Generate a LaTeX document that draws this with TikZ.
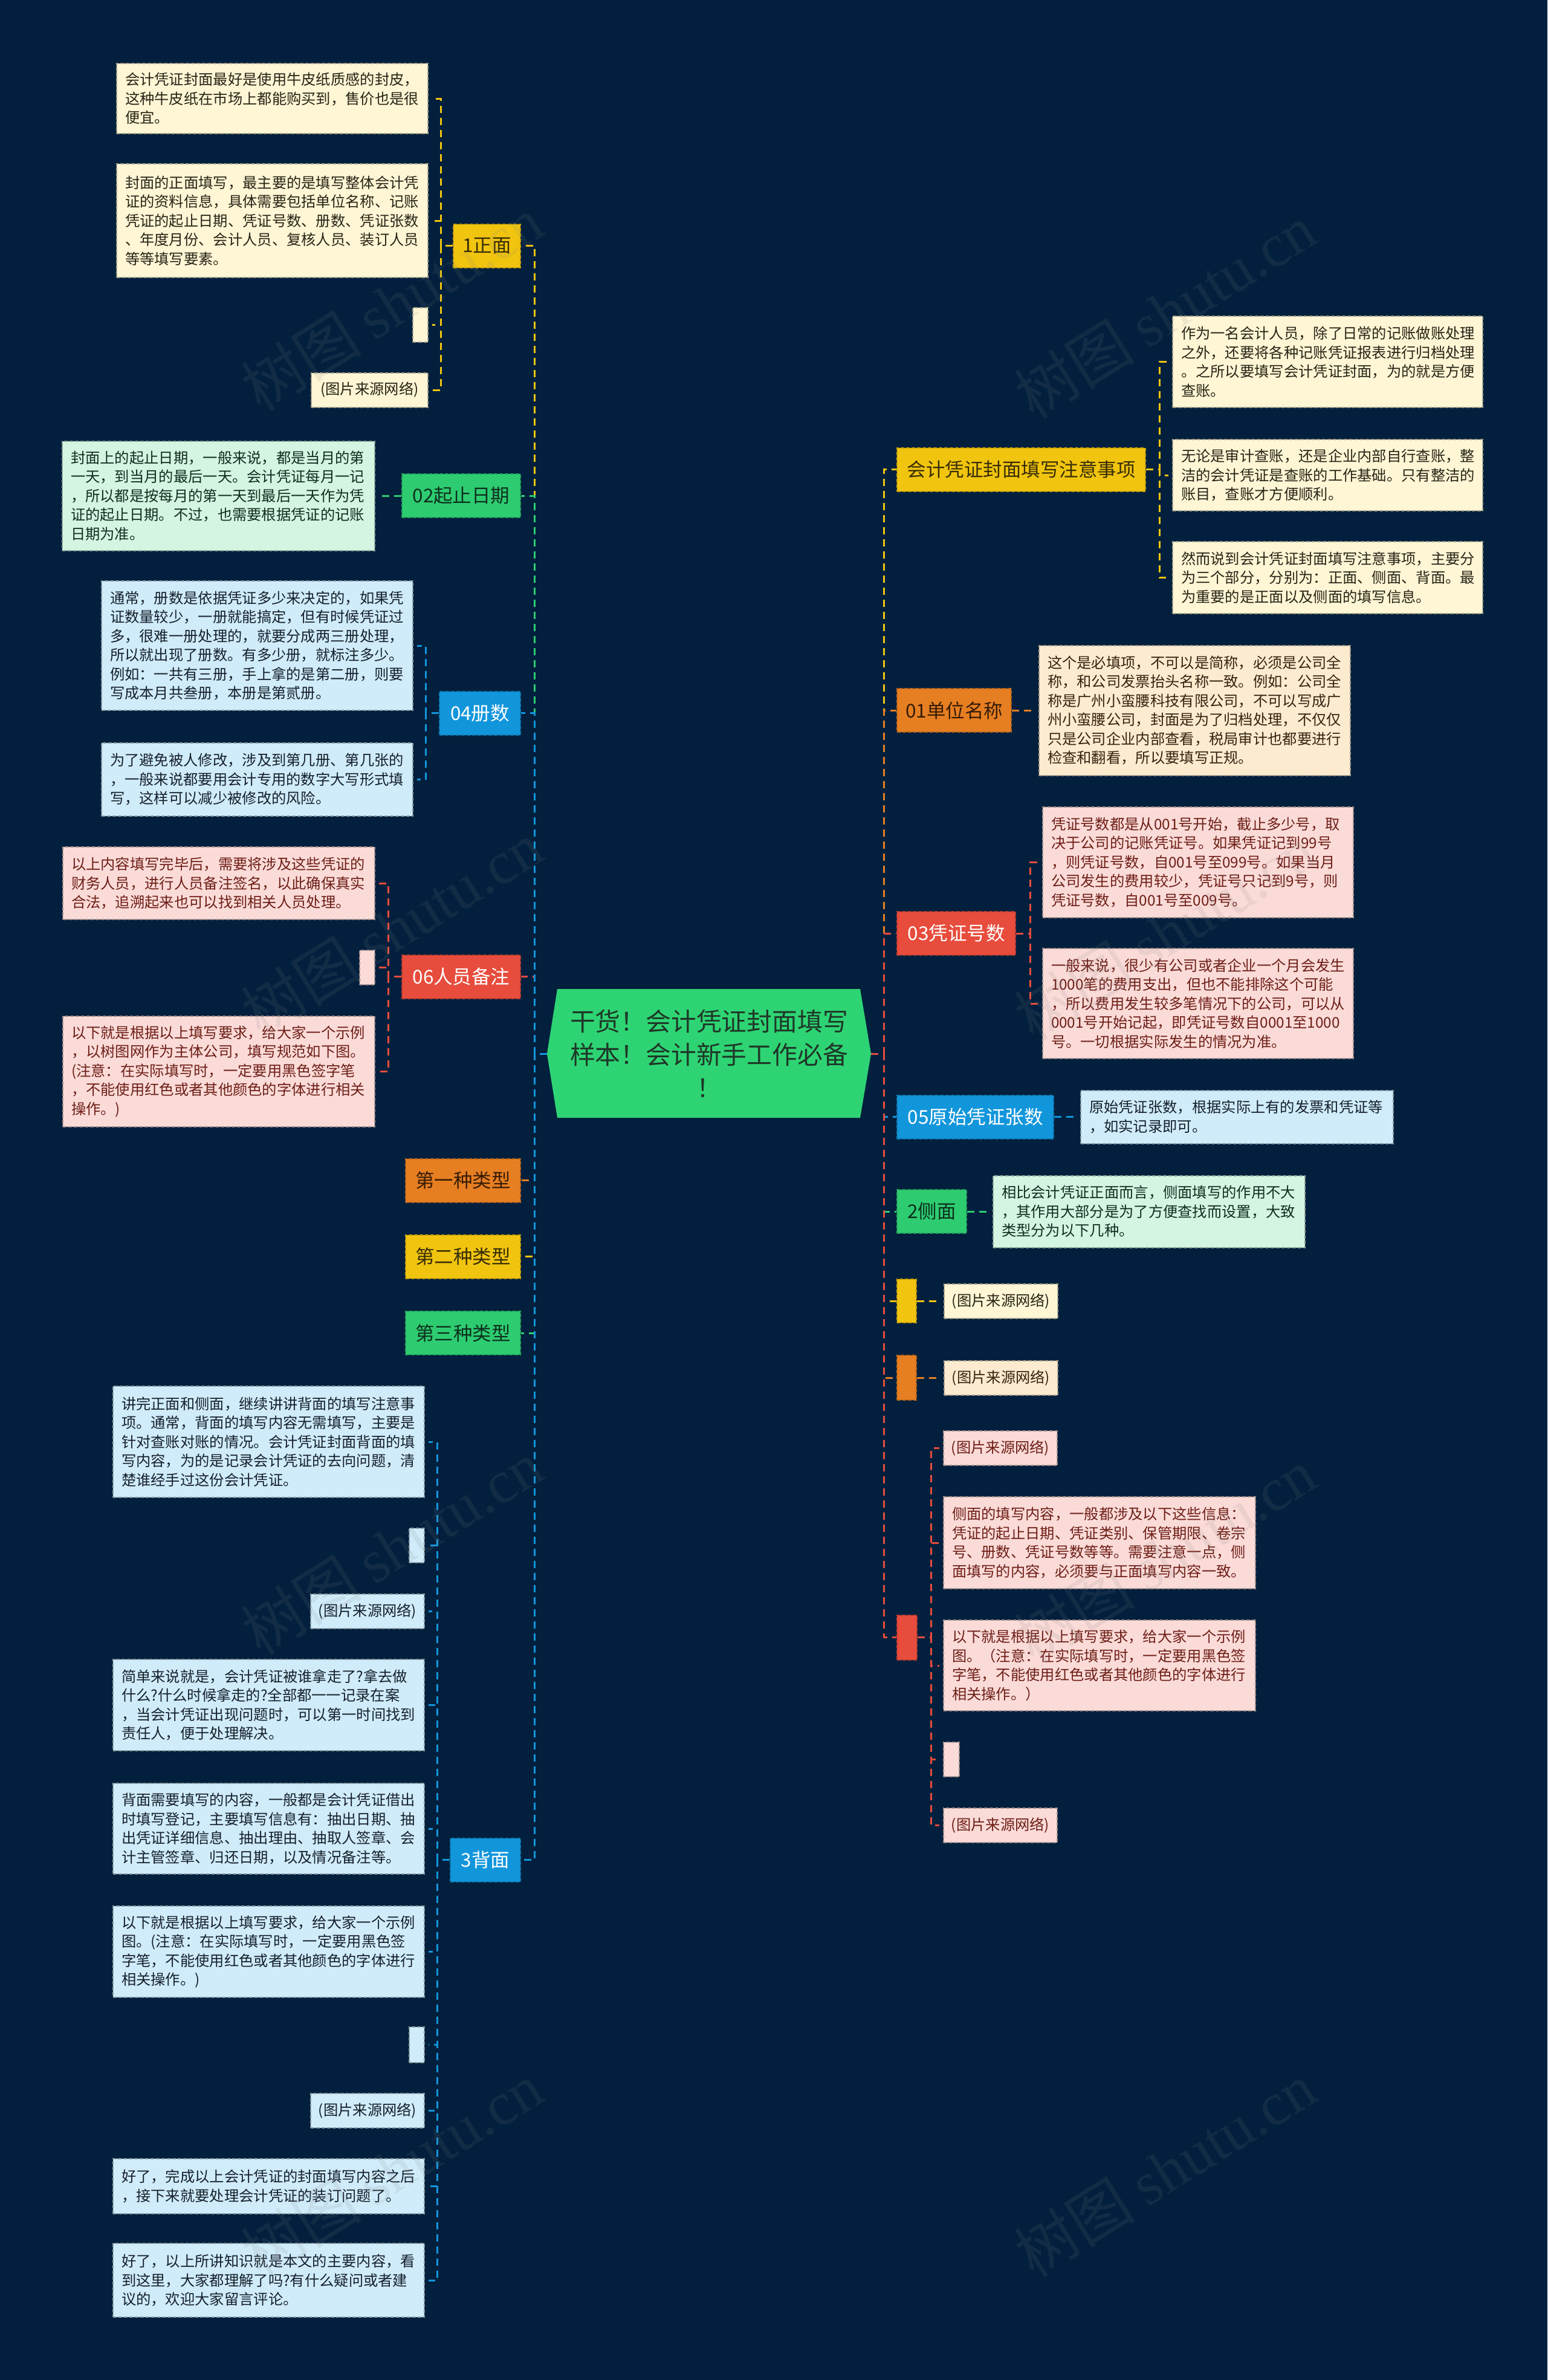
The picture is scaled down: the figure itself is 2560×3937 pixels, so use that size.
\documentclass[tikz,border=0pt]{standalone}
\usepackage{fontspec}
\setmainfont{Noto Sans CJK SC}
\newfontfamily\wmfont{Liberation Serif}
\usetikzlibrary{calc}

\definecolor{bgc}{RGB}{2,32,62}
\definecolor{cY}{RGB}{241,196,15}
\definecolor{cG}{RGB}{46,204,113}
\definecolor{cB}{RGB}{18,150,219}
\definecolor{cR}{RGB}{231,76,60}
\definecolor{cO}{RGB}{230,126,34}
\definecolor{lY}{RGB}{254,246,213}
\definecolor{lG}{RGB}{213,245,227}
\definecolor{lB}{RGB}{208,236,250}
\definecolor{lR}{RGB}{250,219,216}
\definecolor{lO}{RGB}{253,235,208}
\definecolor{tY}{RGB}{55,45,5}
\definecolor{tG}{RGB}{12,48,28}
\definecolor{tO}{RGB}{55,28,5}
\definecolor{tLY}{RGB}{40,36,22}
\definecolor{tLG}{RGB}{18,45,30}
\definecolor{tLB}{RGB}{22,32,44}
\definecolor{tLR}{RGB}{110,30,22}
\definecolor{tLO}{RGB}{55,35,15}
\definecolor{rootc}{RGB}{46,212,115}
\definecolor{roott}{RGB}{30,55,40}

\tikzset{
  lvone/.style={rectangle, inner sep=0pt, minimum height=72pt,
    font=\fontsize{31.5pt}{36pt}\selectfont, line width=2pt, dash pattern=on 6pt off 3pt},
  txtbox/.style={rectangle, inner xsep=14pt, inner ysep=0pt, align=left, text width=487pt,
    font=\fontsize{24.3pt}{31.5pt}\selectfont, line width=2pt, dash pattern=on 6pt off 3pt},
  srcbox/.style={rectangle, inner sep=0pt, minimum width=188pt, minimum height=57pt,
    font=\fontsize{24.3pt}{31.5pt}\selectfont, line width=2pt, dash pattern=on 6pt off 3pt},
  emptybox/.style={rectangle, inner sep=0pt, minimum width=25pt, minimum height=57pt,
    line width=2pt, dash pattern=on 6pt off 3pt},
  conn/.style={line width=3pt, dash pattern=on 12pt off 8pt},
  kid/.style={conn, shorten >=6pt},
  Yone/.style={lvone, fill=cY, draw=cY!80!black, text=tY},
  Gone/.style={lvone, fill=cG, draw=cG!80!black, text=tG},
  Bone/.style={lvone, fill=cB, draw=cB!80!black, text=white},
  Rone/.style={lvone, fill=cR, draw=cR!80!black, text=white},
  Oone/.style={lvone, fill=cO, draw=cO!80!black, text=tO},
  YL/.style={fill=lY, draw=lY!65!black, text=tLY},
  GL/.style={fill=lG, draw=lG!65!black, text=tLG},
  BL/.style={fill=lB, draw=lB!65!black, text=tLB},
  RL/.style={fill=lR, draw=lR!65!black, text=tLR},
  OL/.style={fill=lO, draw=lO!65!black, text=tLO},
  wm/.style={text=gray, opacity=0.13, font=\fontsize{100pt}{110pt}\selectfont, rotate=32}
}

\begin{document}
\begin{tikzpicture}[x=1pt,y=-1pt]
\useasboundingbox (0,0) rectangle (2560,3937);
\fill[bgc] (0,0) rectangle (2560,3937);

% ---------- root ----------
\fill[rootc] (922,1636) -- (1423,1636) -- (1441,1743) -- (1423,1849) -- (922,1849) -- (905,1743) -- cycle;
\node[font=\fontsize{41.8pt}{55pt}\selectfont, text=roott, align=center, inner sep=0pt] (root) at (1173,1743)
  {干货！会计凭证封面填写\\样本！会计新手工作必备\\！};
\coordinate (rootW) at (905,1743);
\coordinate (rootE) at (1441,1743);
\coordinate (lsp) at (884,1743);
\coordinate (rsp) at (1462,1743);

% ---------- left: 1正面 ----------
\node[Yone, minimum width=111pt] (n1) at (805.5,406.5) {1正面};
\node[txtbox, YL, minimum height=116pt] (L1a) at (450.5,163)
  {会计凭证封面最好是使用牛皮纸质感的封皮，\\这种牛皮纸在市场上都能购买到，售价也是很\\便宜。};
\node[txtbox, YL, minimum height=188pt] (L1b) at (450.5,365)
  {封面的正面填写，最主要的是填写整体会计凭\\证的资料信息，具体需要包括单位名称、记账\\凭证的起止日期、凭证号数、册数、凭证张数\\、年度月份、会计人员、复核人员、装订人员\\等等填写要素。};
\node[emptybox, YL] (L1c) at (695.5,537) {};
\node[srcbox, YL, minimum width=193pt] (L1d) at (611.5,645) {(图片来源网络)};

% ---------- 02起止日期 ----------
\node[Gone, minimum width=196pt] (n2) at (763,820) {02起止日期};
\node[txtbox, GL, minimum height=181pt, text width=489pt] (L2a) at (361.5,820)
  {封面上的起止日期，一般来说，都是当月的第\\一天，到当月的最后一天。会计凭证每月一记\\，所以都是按每月的第一天到最后一天作为凭\\证的起止日期。不过，也需要根据凭证的记账\\日期为准。};

% ---------- 04册数 ----------
\node[Bone, minimum width=134pt] (n4) at (794,1179.5) {04册数};
\node[txtbox, BL, minimum height=214pt] (L4a) at (425.5,1068)
  {通常，册数是依据凭证多少来决定的，如果凭\\证数量较少，一册就能搞定，但有时候凭证过\\多，很难一册处理的，就要分成两三册处理，\\所以就出现了册数。有多少册，就标注多少。\\例如：一共有三册，手上拿的是第二册，则要\\写成本月共叁册，本册是第贰册。};
\node[txtbox, BL, minimum height=121pt] (L4b) at (425.5,1289.5)
  {为了避免被人修改，涉及到第几册、第几张的\\，一般来说都要用会计专用的数字大写形式填\\写，这样可以减少被修改的风险。};

% ---------- 06人员备注 ----------
\node[Rone, minimum width=196pt] (n6) at (763,1615.5) {06人员备注};
\node[txtbox, RL, minimum height=120pt, text width=488pt] (L6a) at (362,1461)
  {以上内容填写完毕后，需要将涉及这些凭证的\\财务人员，进行人员备注签名，以此确保真实\\合法，追溯起来也可以找到相关人员处理。};
\node[emptybox, RL] (L6b) at (607.5,1600.5) {};
\node[txtbox, RL, minimum height=183pt, text width=488pt] (L6c) at (362,1772.5)
  {以下就是根据以上填写要求，给大家一个示例\\，以树图网作为主体公司，填写规范如下图。\\(注意：在实际填写时，一定要用黑色签字笔\\，不能使用红色或者其他颜色的字体进行相关\\操作。)};

% ---------- types ----------
\node[Oone, minimum width=190pt] (t1) at (766,1952.5) {第一种类型};
\node[Yone, minimum width=190pt] (t2) at (766,2078.5) {第二种类型};
\node[Gone, minimum width=190pt] (t3) at (766,2205) {第三种类型};

% ---------- 3背面 ----------
\node[Bone, minimum width=116pt] (n3) at (803,3076.5) {3背面};
\node[txtbox, BL, minimum height=184pt] (B1) at (444.5,2385)
  {讲完正面和侧面，继续讲讲背面的填写注意事\\项。通常，背面的填写内容无需填写，主要是\\针对查账对账的情况。会计凭证封面背面的填\\写内容，为的是记录会计凭证的去向问题，清\\楚谁经手过这份会计凭证。};
\node[emptybox, BL] (B2) at (689.5,2556.5) {};
\node[srcbox, BL] (B3) at (608,2665.5) {(图片来源网络)};
\node[txtbox, BL, minimum height=151pt] (B4) at (444.5,2820.5)
  {简单来说就是，会计凭证被谁拿走了?拿去做\\什么?什么时候拿走的?全部都一一记录在案\\，当会计凭证出现问题时，可以第一时间找到\\责任人，便于处理解决。};
\node[txtbox, BL, minimum height=150pt] (B5) at (444.5,3025)
  {背面需要填写的内容，一般都是会计凭证借出\\时填写登记，主要填写信息有：抽出日期、抽\\出凭证详细信息、抽出理由、抽取人签章、会\\计主管签章、归还日期，以及情况备注等。};
\node[txtbox, BL, minimum height=151pt] (B6) at (444.5,3228.5)
  {以下就是根据以上填写要求，给大家一个示例\\图。(注意：在实际填写时，一定要用黑色签\\字笔，不能使用红色或者其他颜色的字体进行\\相关操作。)};
\node[emptybox, BL, minimum height=59pt] (B7) at (689.5,3382.5) {};
\node[srcbox, BL] (B8) at (608,3491.5) {(图片来源网络)};
\node[txtbox, BL, minimum height=91pt] (B9) at (444.5,3616.5)
  {好了，完成以上会计凭证的封面填写内容之后\\，接下来就要处理会计凭证的装订问题了。};
\node[txtbox, BL, minimum height=122pt] (B10) at (444.5,3772)
  {好了，以上所讲知识就是本文的主要内容，看\\到这里，大家都理解了吗?有什么疑问或者建\\议的，欢迎大家留言评论。};

% ---------- right: 注意事项 ----------
\node[Yone, minimum width=411pt] (r1) at (1689.5,776.5) {会计凭证封面填写注意事项};
\node[txtbox, YL, minimum height=151pt, text width=485pt] (R1a) at (2196.5,598.5)
  {作为一名会计人员，除了日常的记账做账处理\\之外，还要将各种记账凭证报表进行归档处理\\。之所以要填写会计凭证封面，为的就是方便\\查账。};
\node[txtbox, YL, minimum height=118pt, text width=485pt] (R1b) at (2196.5,786)
  {无论是审计查账，还是企业内部自行查账，整\\洁的会计凭证是查账的工作基础。只有整洁的\\账目，查账才方便顺利。};
\node[txtbox, YL, minimum height=119pt, text width=485pt] (R1c) at (2196.5,955.5)
  {然而说到会计凭证封面填写注意事项，主要分\\为三个部分，分别为：正面、侧面、背面。最\\为重要的是正面以及侧面的填写信息。};

% ---------- 01单位名称 ----------
\node[Oone, minimum width=189pt] (r2) at (1578.5,1175) {01单位名称};
\node[txtbox, OL, minimum height=215pt] (R2a) at (1976.5,1175)
  {这个是必填项，不可以是简称，必须是公司全\\称，和公司发票抬头名称一致。例如：公司全\\称是广州小蛮腰科技有限公司，不可以写成广\\州小蛮腰公司，封面是为了归档处理，不仅仅\\只是公司企业内部查看，税局审计也都要进行\\检查和翻看，所以要填写正规。};

% ---------- 03凭证号数 ----------
\node[Rone, minimum width=196pt] (r3) at (1582,1544) {03凭证号数};
\node[txtbox, RL, minimum height=183pt, text width=486pt] (R3a) at (1982,1426.5)
  {凭证号数都是从001号开始，截止多少号，取\\决于公司的记账凭证号。如果凭证记到99号\\，则凭证号数，自001号至099号。如果当月\\公司发生的费用较少，凭证号只记到9号，则\\凭证号数，自001号至009号。};
\node[txtbox, RL, minimum height=182pt, text width=486pt] (R3b) at (1982,1660)
  {一般来说，很少有公司或者企业一个月会发生\\1000笔的费用支出，但也不能排除这个可能\\，所以费用发生较多笔情况下的公司，可以从\\0001号开始记起，即凭证号数自0001至1000\\号。一切根据实际发生的情况为准。};

% ---------- 05原始凭证张数 ----------
\node[Bone, minimum width=259pt] (r4) at (1613.5,1847.5) {05原始凭证张数};
\node[txtbox, BL, minimum height=88pt, text width=489pt] (R4a) at (2046.5,1847.5)
  {原始凭证张数，根据实际上有的发票和凭证等\\，如实记录即可。};

% ---------- 2侧面 ----------
\node[Gone, minimum width=115pt] (r5) at (1541.5,2004) {2侧面};
\node[txtbox, GL, minimum height=119pt, text width=488pt] (R5a) at (1901,2004)
  {相比会计凭证正面而言，侧面填写的作用不大\\，其作用大部分是为了方便查找而设置，大致\\类型分为以下几种。};

% ---------- small colored ----------
\node[Yone, minimum width=32pt] (r6) at (1500,2152) {};
\node[srcbox, YL] (R6a) at (1656,2152) {(图片来源网络)};
\node[Oone, minimum width=32pt, minimum height=74pt] (r7) at (1500,2279) {};
\node[srcbox, OL] (R7a) at (1656,2279) {(图片来源网络)};

\node[Rone, minimum width=33pt, minimum height=74pt] (r8) at (1500,2708.5) {};
\node[srcbox, RL] (R8a) at (1655,2395.5) {(图片来源网络)};
\node[txtbox, RL, minimum height=152pt, text width=488pt] (R8b) at (1819,2552)
  {侧面的填写内容，一般都涉及以下这些信息：\\凭证的起止日期、凭证类别、保管期限、卷宗\\号、册数、凭证号数等等。需要注意一点，侧\\面填写的内容，必须要与正面填写内容一致。};
\node[txtbox, RL, minimum height=150pt, text width=488pt] (R8c) at (1819,2755)
  {以下就是根据以上填写要求，给大家一个示例\\图。（注意：在实际填写时，一定要用黑色签\\字笔，不能使用红色或者其他颜色的字体进行\\相关操作。）};
\node[emptybox, RL, minimum width=26pt] (R8d) at (1574,2910.5) {};
\node[srcbox, RL] (R8e) at (1655,3019.5) {(图片来源网络)};

% ---------- connectors: left spine ----------
\draw[conn, cY] (rootW) -- (lsp) |- (n1.east);
\draw[conn, cG] (rootW) -- (lsp) |- (n2.east);
\draw[conn, cR] (rootW) -- (lsp) |- (n6.east);
\draw[conn, cB] (rootW) -- (lsp) |- (n4.east);
\draw[conn, cO] (rootW) -- (lsp) |- (t1.east);
\draw[conn, cY] (rootW) -- (lsp) |- (t2.east);
\draw[conn, cG] (rootW) -- (lsp) |- (t3.east);
\draw[conn, cB] (rootW) -- (lsp) |- (n3.east);

\foreach \k in {L1a,L1b,L1c,L1d} \draw[kid, cY] (n1.west) -- ++(-20,0) |- (\k.east);
\draw[kid, cG] (n2.west) -- (L2a.east);
\foreach \k in {L4a,L4b} \draw[kid, cB] (n4.west) -- ++(-22,0) |- (\k.east);
\foreach \k in {L6a,L6b,L6c} \draw[kid, cR] (n6.west) -- ++(-22,0) |- (\k.east);
\foreach \k in {B1,B2,B3,B4,B5,B6,B7,B8,B9,B10} \draw[kid, cB] (n3.west) -- ++(-21,0) |- (\k.east);

% ---------- connectors: right spine ----------
\draw[conn, cY] (rootE) -- (rsp) |- (r1.west);
\draw[conn, cO] (rootE) -- (rsp) |- (r2.west);
\draw[conn, cR] (rootE) -- (rsp) |- (r3.west);
\draw[conn, cB] (rootE) -- (rsp) |- (r4.west);
\draw[conn, cG] (rootE) -- (rsp) |- (r5.west);
\draw[conn, cY] (rootE) -- (rsp) |- (r6.west);
\draw[conn, cO] (rootE) -- (rsp) |- (r7.west);
\draw[conn, cR] (rootE) -- (rsp) |- (r8.west);

\foreach \k in {R1a,R1b,R1c} \draw[kid, cY] (r1.east) -- ++(22,0) |- (\k.west);
\draw[kid, cO] (r2.east) -- (R2a.west);
\foreach \k in {R3a,R3b} \draw[kid, cR] (r3.east) -- ++(23,0) |- (\k.west);
\draw[kid, cB] (r4.east) -- (R4a.west);
\draw[kid, cG] (r5.east) -- (R5a.west);
\draw[kid, cY] (r6.east) -- (R6a.west);
\draw[kid, cO] (r7.east) -- (R7a.west);
\foreach \k in {R8a,R8b,R8c,R8d,R8e} \draw[kid, cR] (r8.east) -- ++(23,0) |- (\k.west);

% ---------- watermarks ----------
\foreach \i/\p in {1/{(648,502)},2/{(1927,515)},3/{(648,1536)},4/{(1927,1543)},5/{(648,2560)},6/{(1927,2573)},7/{(648,3589)},8/{(1927,3589)}}
  \node[wm] (wm\i) at \p {树图 {\wmfont shutu.cn}};
\end{tikzpicture}
\end{document}
